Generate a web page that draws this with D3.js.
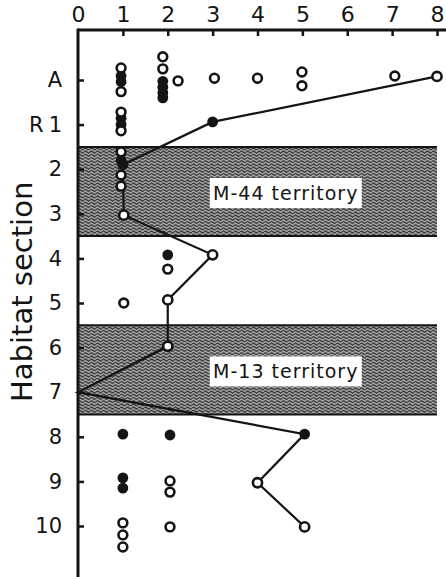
<!DOCTYPE html>
<html>
<head>
<meta charset="utf-8">
<script src="https://cdn.jsdelivr.net/npm/d3@7"></script>
<style>
  html, body { margin: 0; padding: 0; background: #fff; }
  svg { display: block; }
</style>
</head>
<body>
<script>
// ---- data ----
const xTicks = [0, 1, 2, 3, 4, 5, 6, 7, 8];
const rowLabels = ["A", "R1", "2", "3", "4", "5", "6", "7", "8", "9", "10"];

// connected series (row index: A=0, R1=1, 2=2 ... 10=10)
const lineX = [8, 3, 1, 1.02, 3, 2, 2, 0, 5.05, 4, 5.05];
const lineY = [-0.08, 0.94, 1.9, 3.03, 3.92, 4.93, 5.97, 7, 7.94, 9.03, 10.02];
const lineMarker = ["open", "filled", "filled", "open", "open", "open", "open", "none", "filled", "open", "open"];

// individual observations, open circles
const openX = [0.96, 0.96, 1.89, 1.89, 2.23, 3.04, 4.0, 4.99, 4.99, 7.06,
               0.96, 0.96,
               0.96, 0.96, 0.96,
               2.0,
               1.02,
               2.05, 2.05,
               1.0, 1.0, 1.0, 2.05];
const openY = [-0.27, 0.26, -0.52, -0.25, 0.02, -0.04, -0.04, -0.18, 0.13, -0.09,
               0.72, 1.14,
               1.61, 2.13, 2.38,
               4.24,
               5.0,
               8.99, 9.24,
               9.93, 10.2, 10.47, 10.02];

// individual observations, filled circles
const filledX = [0.96, 0.96, 1.89, 1.89, 1.89, 1.89,
                 0.96, 0.96,
                 0.96,
                 2.0,
                 1.0, 2.05,
                 1.0, 1.0];
const filledY = [-0.09, 0.04, 0.03, 0.16, 0.29, 0.4,
                 0.86, 1.0,
                 1.8,
                 3.92,
                 7.94, 7.96,
                 8.92, 9.15];

// shaded territories (row-index spans)
const bandFrom = [1.5, 5.5];
const bandTo = [3.5, 7.5];
const bandLabels = ["M-44 territory", "M-13 territory"];

// ---- layout ----
const W = 446, H = 577;
const x = d3.scaleLinear().domain([0, 8]).range([78, 437]);
const y = d3.scaleLinear().domain([0, 10]).range([80, 526]);
const ink = "#141414";

const svg = d3.select("body").append("svg").attr("width", W).attr("height", H)
  .style("font-family", "'DejaVu Sans', sans-serif");

// wavy pattern
const defs = svg.append("defs");
const pat = defs.append("pattern").attr("id", "wave").attr("patternUnits", "userSpaceOnUse")
  .attr("width", 6).attr("height", 3.2);
pat.append("rect").attr("width", 6).attr("height", 3.2).attr("fill", "#aaaaaa");
pat.append("path").attr("d", "M0,1.6 Q1.5,0 3,1.6 T6,1.6")
  .attr("fill", "none").attr("stroke", "#333").attr("stroke-width", 1.4);

// bands
const bands = svg.append("g");
bandFrom.forEach((b, i) => {
  const y0 = y(b), y1 = y(bandTo[i]);
  bands.append("rect").attr("x", x(0)).attr("y", y0).attr("width", x(8) - x(0)).attr("height", y1 - y0)
    .attr("fill", "url(#wave)");
  bands.append("line").attr("x1", x(0)).attr("x2", x(8)).attr("y1", y0).attr("y2", y0)
    .attr("stroke", ink).attr("stroke-width", 2);
  bands.append("line").attr("x1", x(0)).attr("x2", x(8)).attr("y1", y1).attr("y2", y1)
    .attr("stroke", ink).attr("stroke-width", 2);
  const cy = (y0 + y1) / 2 + 1.5;
  const cx = x(4.63);
  bands.append("rect").attr("x", cx - 76).attr("y", cy - 15).attr("width", 152).attr("height", 30)
    .attr("fill", "#fff");
  bands.append("text").attr("x", cx).attr("y", cy + 7).attr("text-anchor", "middle")
    .attr("font-size", 19).attr("letter-spacing", 1).attr("fill", ink).text(bandLabels[i]);
});

// axes
const topAxis = d3.axisTop(x).tickValues(xTicks).tickFormat(d3.format("d")).tickSize(-6).tickPadding(8);
const gTop = svg.append("g").attr("transform", `translate(0,30)`).call(topAxis);
gTop.select(".domain").remove();
gTop.selectAll(".tick line").attr("stroke", ink).attr("stroke-width", 2.5);
gTop.selectAll(".tick text").attr("font-size", 22).attr("fill", ink).attr("font-family", "'DejaVu Sans', sans-serif");
gTop.selectAll(".tick").filter(d => d === 0).select("line").remove();

const leftAxis = d3.axisLeft(y).tickValues(d3.range(rowLabels.length)).tickFormat(i => rowLabels[i])
  .tickSize(-6).tickPadding(16);
const gLeft = svg.append("g").attr("transform", `translate(${x(0)},0)`).call(leftAxis);
gLeft.select(".domain").remove();
gLeft.selectAll(".tick line").attr("stroke", ink).attr("stroke-width", 2.5);
gLeft.selectAll(".tick text").attr("font-size", 21).attr("fill", ink).attr("font-family", "'DejaVu Sans', sans-serif")
  .attr("letter-spacing", (d, i) => rowLabels[i] === "R1" ? 5 : 0)
  .attr("dx", (d, i) => rowLabels[i] === "R1" ? 5 : 0);

// axis lines
svg.append("line").attr("x1", x(0)).attr("x2", W).attr("y1", 30).attr("y2", 30)
  .attr("stroke", ink).attr("stroke-width", 3);
svg.append("line").attr("x1", x(0)).attr("x2", x(0)).attr("y1", 28.5).attr("y2", H)
  .attr("stroke", ink).attr("stroke-width", 3);

// axis title
svg.append("text").attr("transform", `translate(32,${y(4.75)}) rotate(-90)`)
  .attr("text-anchor", "middle").attr("font-size", 29).attr("fill", ink).text("Habitat section");

// connected line
const pts = lineX.map((v, i) => ({ x: v, y: lineY[i], m: lineMarker[i] }));
svg.append("path").datum(pts)
  .attr("d", d3.line().x(d => x(d.x)).y(d => y(d.y)))
  .attr("fill", "none").attr("stroke", ink).attr("stroke-width", 2.2);

// scatter points
const openPts = openX.map((v, i) => ({ x: v, y: openY[i] }));
const filledPts = filledX.map((v, i) => ({ x: v, y: filledY[i] }));

svg.append("g").selectAll("circle").data(filledPts).join("circle")
  .attr("cx", d => x(d.x)).attr("cy", d => y(d.y)).attr("r", 5.4).attr("fill", ink);
svg.append("g").selectAll("circle").data(openPts).join("circle")
  .attr("cx", d => x(d.x)).attr("cy", d => y(d.y)).attr("r", 4.4)
  .attr("fill", "#fff").attr("stroke", ink).attr("stroke-width", 2.6);

// line markers
svg.append("g").selectAll("circle").data(pts.filter(d => d.m !== "none")).join("circle")
  .attr("cx", d => x(d.x)).attr("cy", d => y(d.y))
  .attr("r", d => d.m === "filled" ? 5.4 : 4.6)
  .attr("fill", d => d.m === "filled" ? ink : "#fff")
  .attr("stroke", ink).attr("stroke-width", d => d.m === "filled" ? 0 : 2.6);
</script>
</body>
</html>
